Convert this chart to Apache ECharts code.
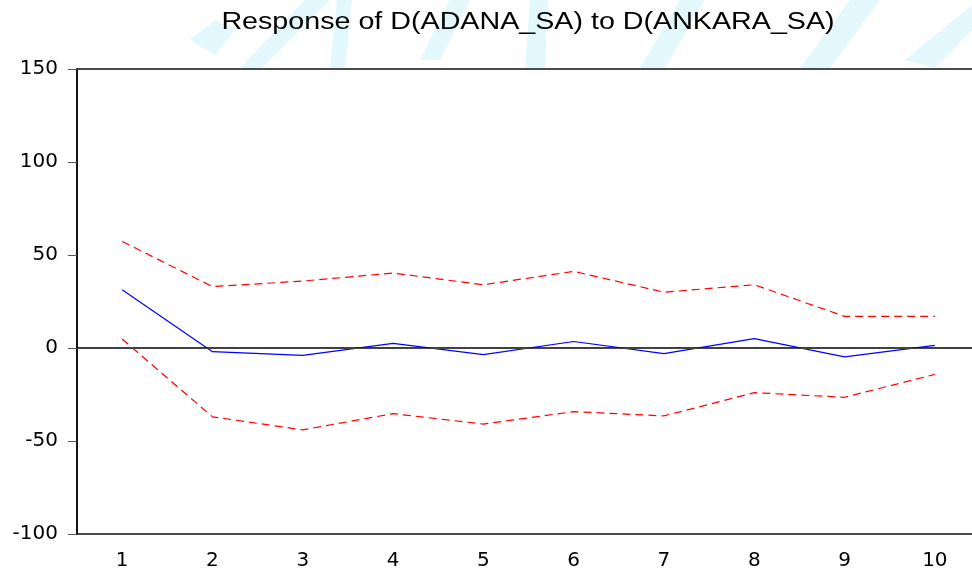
<!DOCTYPE html>
<html>
<head>
<meta charset="utf-8">
<script src="https://cdn.jsdelivr.net/npm/echarts@6/dist/echarts.min.js"></script>
<style>
html, body { margin: 0; padding: 0; background: #fff; }
#chart { width: 972px; height: 572px; }
</style>
</head>
<body>
<div id="chart"></div>
<script>
var periods = ['1', '2', '3', '4', '5', '6', '7', '8', '9', '10'];
var response = [31.3, -2, -4, 2.5, -3.6, 3.5, -3, 5, -4.8, 1.4];
var upperBand = [57.3, 33, 36, 40.3, 34, 41.2, 30, 34, 17, 17];
var lowerBand = [4.8, -37, -44, -35.3, -40.9, -34.2, -36.5, -24, -26.5, -14.2];
var titleText = 'Response of D(ADANA_SA) to D(ANKARA_SA)';

var chart = echarts.init(document.getElementById('chart'));

var font = 'DejaVu Sans, Liberation Sans, sans-serif';

// faint watermark strokes behind the title
var wm = '#e2f8fc';
var watermark = [
	[[190, 40], [215, 20], [235, 30], [215, 55]],
	[[240, 68], [262, 68], [330, 0], [305, 0]],
	[[330, 68], [345, 68], [352, 0], [337, 0]],
	[[420, 60], [440, 60], [470, 0], [450, 0]],
	[[525, 68], [545, 68], [548, 0], [530, 0]],
	[[640, 68], [665, 68], [705, 0], [680, 0]],
	[[800, 68], [830, 68], [880, 0], [850, 0]],
	[[905, 60], [935, 68], [972, 30], [972, 5]]
];
var graphics = [];
for (var i = 0; i < watermark.length; i++) {
	graphics.push({
		type: 'polygon',
		z: -10,
		silent: true,
		shape: { points: watermark[i] },
		style: { fill: wm }
	});
}
graphics.push({
	type: 'text',
	x: 528,
	y: 34,
	scaleX: 1.246,
	z: 10,
	style: {
		text: titleText,
		font: '23px Liberation Sans, Arial, sans-serif',
		fill: '#000',
		textAlign: 'center',
		textVerticalAlign: 'bottom'
	}
});

option = {
	animation: false,
	graphic: graphics,
	grid: {
		left: 77,
		top: 69,
		right: -8,
		bottom: 38,
		outerBoundsMode: 'none',
		show: true,
		borderColor: '#111',
		borderWidth: 1.5,
		backgroundColor: '#fff'
	},
	xAxis: {
		type: 'category',
		data: periods,
		boundaryGap: true,
		axisLine: { lineStyle: { color: '#000', width: 1.5 } },
		axisTick: { length: 9, lineStyle: { color: '#555' } },
		axisLabel: { margin: 17, color: '#000', fontFamily: font, fontSize: 20 },
		splitLine: { show: false }
	},
	yAxis: {
		type: 'value',
		min: -100,
		max: 150,
		interval: 50,
		axisLine: { show: true, lineStyle: { color: '#000', width: 1.5 } },
		axisTick: { show: true, length: 9, lineStyle: { color: '#555' } },
		axisLabel: { margin: 19, color: '#000', fontFamily: font, fontSize: 20 },
		splitLine: { show: false }
	},
	series: [{
		type: 'line',
		data: response,
		symbol: 'none',
		lineStyle: { color: '#0000ff', width: 1.2 },
		markLine: {
			silent: true,
			symbol: 'none',
			label: { show: false },
			lineStyle: { color: '#444', width: 1, type: 'solid' },
			data: [{ yAxis: 0 }]
		},
		z: 3
	}, {
		type: 'line',
		data: upperBand,
		symbol: 'none',
		lineStyle: { color: '#ff0000', width: 1.2, type: [8, 5] }
	}, {
		type: 'line',
		data: lowerBand,
		symbol: 'none',
		lineStyle: { color: '#ff0000', width: 1.2, type: [8, 5] }
	}]
};

chart.setOption(option);
</script>
</body>
</html>
